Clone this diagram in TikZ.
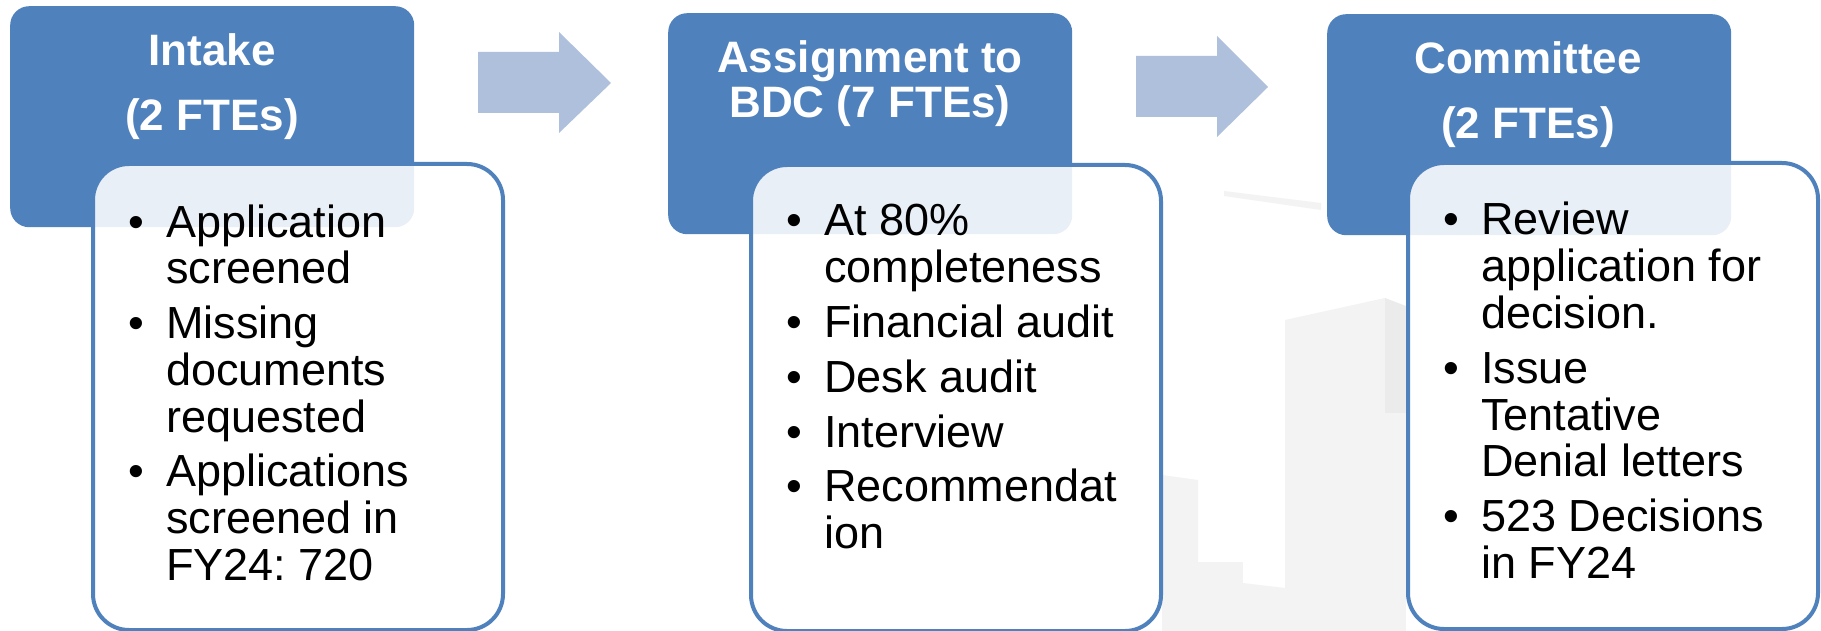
\documentclass[tikz,border=0pt]{standalone}
\usepackage{fontspec}
\setmainfont{Liberation Sans}
\definecolor{hdrblue}{HTML}{4F81BD}
\definecolor{arrowblue}{HTML}{AFC0DC}
\definecolor{bldg}{HTML}{F3F3F3}
\definecolor{bldgdark}{HTML}{EBEBEB}
\newcommand{\bul}{\makebox[60pt][c]{•}}
\begin{document}
\frenchspacing
\begin{tikzpicture}[x=1pt,y=-1pt,
  hdrbox/.style={fill=hdrblue, rounded corners=19pt, anchor=north west, inner sep=0pt, minimum width=404pt, minimum height=221pt},
  bodybox/.style={draw=hdrblue, line width=4pt, fill=white, fill opacity=0.88, rounded corners=36pt, anchor=north west, inner sep=0pt, minimum width=410pt, minimum height=466pt},
  hdrtext/.style={text=white, font=\fontsize{44}{50}\selectfont\bfseries, anchor=base, inner sep=0pt},
  bodytext/.style={text=black, font=\fontsize{45}{46.8}\selectfont, anchor=base west, inner sep=0pt},
  blockarrow/.style={fill=arrowblue},
  bgshape/.style={fill=bldg},
  bgshadow/.style={fill=bldgdark}]
\useasboundingbox (0,0) rectangle (1821,631);
\fill[white] (0,0) rectangle (1821,631);
% faint background buildings
\fill[bgshape] (1162,475) -- (1198,480) -- (1198,631) -- (1162,631) -- cycle;
\fill[bgshape] (1198,562) -- (1243,562) -- (1243,631) -- (1198,631) -- cycle;
\fill[bgshape] (1243,583) -- (1285,588) -- (1285,631) -- (1243,631) -- cycle;
\fill[bgshape] (1285,320) -- (1385,298) -- (1385,631) -- (1285,631) -- cycle;
\fill[bgshadow] (1385,298) -- (1406,306) -- (1406,413) -- (1385,413) -- cycle;
\fill[bgshape] (1385,413) -- (1406,413) -- (1406,631) -- (1385,631) -- cycle;
\fill[bgshape] (1224,191) -- (1321,203) -- (1321,210) -- (1224,196) -- cycle;
% block arrows
\fill[blockarrow] (478,52) -- (559,52) -- (559,32) -- (611,83) -- (559,133) -- (559,113) -- (478,113) -- cycle;
\fill[blockarrow] (1136,56) -- (1217,56) -- (1217,36) -- (1268,87) -- (1217,137) -- (1217,117) -- (1136,117) -- cycle;
% headers
\node[hdrbox] (h1) at (10,6) {};
\node[hdrbox] (h2) at (668,13) {};
\node[hdrbox] (h3) at (1327,14) {};
% bodies
\node[bodybox] (b1) at (91,162) {};
\node[bodybox] (b2) at (749,163) {};
\node[bodybox] (b3) at (1406,161) {};
% header texts
\node[hdrtext] (t1) at (212,66) {\begin{tabular}[t]{@{}c@{}}Intake\\[15pt](2 FTEs)\end{tabular}};
\node[hdrtext] (t2) at (870,73) {\begin{tabular}[t]{@{}c@{}}Assignment to\\[-5pt]BDC (7 FTEs)\end{tabular}};
\node[hdrtext] (t3) at (1528,74) {\begin{tabular}[t]{@{}c@{}}Committee\\[15pt](2 FTEs)\end{tabular}};
% body texts
\node[bodytext] (l1) at (106,237) {\begin{tabular}[t]{@{}l@{}l@{}}
\bul&Application\\
&screened\\[8pt]
\bul&Missing\\
&documents\\
&requested\\[8pt]
\bul&Applications\\
&screened in\\
&FY24: 720
\end{tabular}};
\node[bodytext] (l2) at (764,236) {\begin{tabular}[t]{@{}l@{}l@{}}
\bul&At 80\%\\
&completeness\\[8pt]
\bul&Financial audit\\[8pt]
\bul&Desk audit\\[8pt]
\bul&Interview\\[8pt]
\bul&Recommendat\\
&ion
\end{tabular}};
\node[bodytext] (l3) at (1421,235) {\begin{tabular}[t]{@{}l@{}l@{}}
\bul&Review\\
&application for\\
&decision.\\[8pt]
\bul&Issue\\
&Tentative\\
&Denial letters\\[8pt]
\bul&523 Decisions\\
&in FY24
\end{tabular}};
\end{tikzpicture}
\end{document}
